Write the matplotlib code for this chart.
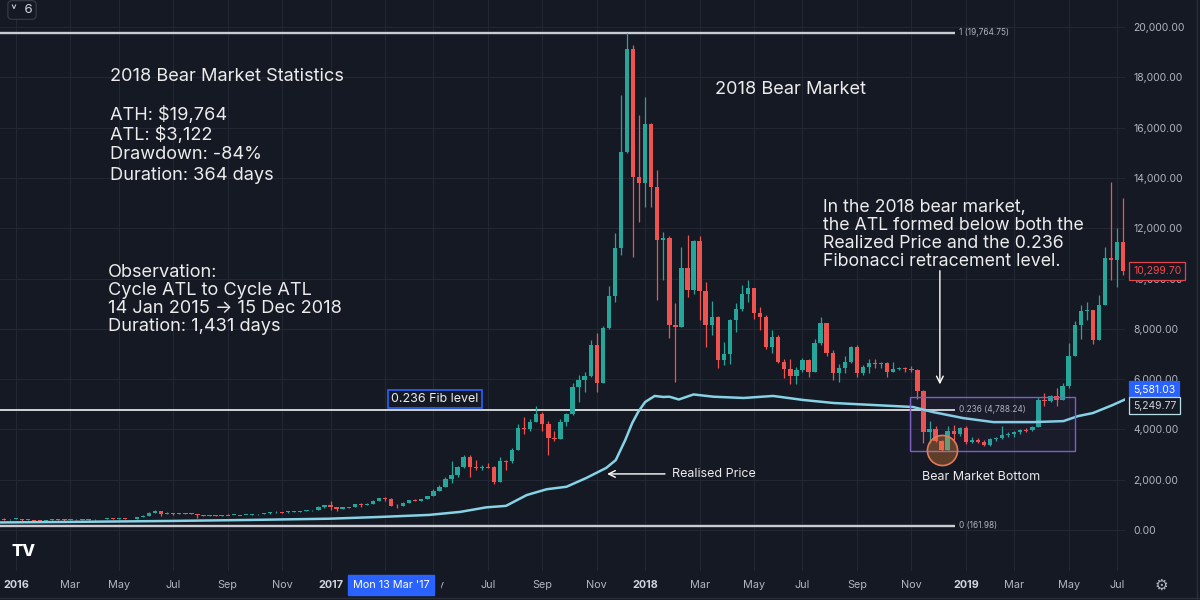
import numpy as np
import pandas as pd
import matplotlib
matplotlib.use("Agg")
import matplotlib.pyplot as plt
import matplotlib.dates as mdates
from matplotlib.patches import Rectangle
from matplotlib.lines import Line2D
from matplotlib.transforms import Bbox

# ---- weekly BTC candles, Mon 14 Dec 2015 .. Mon 8 Jul 2019 (open = previous close)
first_open = 434
close = [
    440, 422, 430,
    # 2016
    448, 387, 403, 378, 376, 406, 438, 432, 404, 413, 411, 425, 420, 421, 427, 458,
    448, 459, 456, 444, 526, 574, 685, 764, 629, 658, 650, 678, 660, 624, 591, 570,
    581, 573, 609, 607, 609, 601, 610, 617, 641, 657, 697, 711, 702, 729, 729, 766,
    778, 790, 897, 997,
    # 2017
    908, 818, 922, 919, 1023, 999, 1049, 1150, 1270, 1230, 970, 966, 1080, 1180,
    1170, 1230, 1350, 1560, 1720, 2040, 2190, 2520, 2900, 2500, 2480, 2500, 2490,
    1900, 2740, 2730, 3180, 4050, 4000, 4290, 4620, 4220, 3650, 3620, 4300, 4600,
    5690, 5960, 6120, 7350, 5850, 8040, 9290, 11210, 15030, 19120, 14020, 13810,
    # 2018
    16140, 13620, 11530, 11620, 8150, 8080, 10420, 9560, 11490, 9510, 8150, 8450,
    6760, 7000, 8350, 8770, 9370, 9610, 8640, 8480, 7290, 7690, 6700, 6390, 6130,
    6360, 6760, 6300, 7420, 8220, 7030, 6260, 6430, 6700, 7290, 6230, 6470, 6660,
    6610, 6630, 6300, 6420, 6440, 6420, 6350, 5520, 3880, 4000, 3520, 3190, 3930,
    3800, 4060,
    # 2019
    3480, 3560, 3510, 3370, 3620, 3660, 3790, 3810, 3880, 3990, 3970, 4100, 5170,
    5110, 5320, 5180, 5720, 6910, 8150, 8720, 8740, 7550, 8950, 10800, 10750, 11460,
    10299.70,
]
high = [
    465, 465, 438,
    462, 449, 415, 397, 395, 407, 443, 446, 439, 422, 418, 426, 427, 425, 431, 462,
    468, 462, 462, 456, 534, 580, 705, 780, 775, 700, 680, 680, 680, 660, 630, 600,
    585, 585, 615, 630, 612, 611, 615, 620, 645, 660, 703, 740, 725, 760, 750, 775,
    780, 795, 935, 1000,
    1153, 915, 925, 925, 1030, 1065, 1062, 1212, 1288, 1300, 1260, 1050, 1100, 1210,
    1220, 1240, 1360, 1620, 1800, 2100, 2740, 2550, 2980, 2980, 2800, 2600, 2650,
    2530, 2900, 2780, 3250, 4220, 4480, 4400, 4930, 4700, 4350, 3930, 4400, 4650,
    5850, 6180, 6300, 7550, 7830, 8100, 9700, 11800, 17300, 19764.75, 19280, 16500,
    17220, 16180, 14310, 11850, 11700, 9040, 11260, 11730, 11550, 11700, 9870, 9100,
    8500, 7480, 8400, 9030, 9740, 9940, 9610, 8850, 8550, 7950, 7770, 6800, 6800,
    6500, 6850, 6780, 7600, 8480, 8250, 7150, 6600, 6900, 7300, 7360, 6560, 6780,
    6800, 6700, 6700, 6700, 6500, 6500, 6520, 6400, 5550, 4350, 4120, 3580, 4140,
    4170, 4100,
    4120, 3700, 3640, 3570, 3660, 3700, 4140, 3900, 3930, 4010, 4050, 4150, 5300,
    5450, 5360, 5650, 5850, 7450, 8300, 8950, 9080, 8750, 9330, 11250, 13850, 12000,
    13190,
]
low = [
    415, 415, 415,
    423, 365, 360, 366, 362, 373, 402, 410, 369, 405, 406, 411, 411, 415, 420, 426,
    445, 443, 449, 436, 443, 525, 570, 680, 550, 620, 605, 645, 645, 620, 480, 565,
    565, 565, 570, 600, 600, 590, 600, 605, 615, 627, 651, 690, 695, 695, 720, 725,
    755, 770, 790, 880,
    812, 756, 820, 887, 915, 925, 993, 1048, 1150, 1150, 940, 890, 940, 1080,
    1150, 1170, 1230, 1350, 1560, 1700, 1850, 2100, 2480, 2100, 2400, 2400, 2450,
    1830, 1900, 2400, 2650, 3180, 3800, 3950, 4280, 3950, 2980, 3520, 3600, 4150,
    4570, 5100, 5500, 6100, 5480, 5850, 8000, 9060, 10930, 15000, 10850, 12250,
    12840, 12840, 9150, 9940, 7630, 5900, 8070, 9270, 9400, 8350, 7290, 7750,
    6430, 6580, 6620, 7880, 8700, 9050, 8400, 7950, 7200, 7050, 6650, 6030, 5810,
    5800, 6280, 6100, 6300, 7350, 6900, 5960, 5900, 6250, 6650, 6100, 6150, 6250,
    6450, 6450, 6100, 6280, 6380, 6300, 6300, 5200, 3450, 3450, 3480, 3122, 3180,
    3580, 3750,
    3420, 3470, 3450, 3350, 3350, 3550, 3620, 3700, 3700, 3820, 3900, 3950, 4100,
    4950, 5080, 4950, 5150, 5650, 6900, 7600, 8350, 7400, 7550, 8950, 9940, 9650,
    10140,
]

# ---- realized price (light blue line)
rp_dates = ["2015-12-14", "2016-03-01", "2016-07-01", "2016-10-01", "2017-01-01",
            "2017-03-01", "2017-04-26", "2017-06-01", "2017-07-01", "2017-07-24",
            "2017-08-17", "2017-09-09", "2017-10-02", "2017-10-25", "2017-11-17",
            "2017-11-28", "2017-12-09", "2017-12-17", "2017-12-24", "2018-01-01",
            "2018-01-12", "2018-01-22", "2018-01-29", "2018-02-09", "2018-02-26",
            "2018-03-21", "2018-04-25", "2018-05-29", "2018-07-03", "2018-08-07",
            "2018-09-22", "2018-11-07", "2018-11-30", "2019-01-04", "2019-02-08",
            "2019-03-26", "2019-04-30", "2019-05-17", "2019-06-03", "2019-06-26",
            "2019-07-14"]
rp_values = [300, 320, 360, 400, 450, 520, 600, 720, 900, 960, 1390, 1620, 1720,
             2070, 2470, 2780, 3580, 4250, 4700, 5090, 5330, 5290, 5300, 5190, 5390,
             5300, 5250, 5330, 5170, 5050, 4970, 4890, 4690, 4450, 4290, 4290, 4330,
             4530, 4650, 4970, 5250]

# ---- fibonacci levels
fib_names = ["1", "0.236", "0"]
fib_prices = [19764.75, 4788.24, 161.98]
fib_end = "2018-12-25"

last_price = 10299.70
blue_value = 5581.03
rp_last = 5249.77

BG = "#151924"
GRID = "#232734"
UP = "#26a69a"
DOWN = "#ef5350"
TXT = "#ececec"
AXT = "#b2b5be"

plt.rcParams["font.family"] = ["Inter", "DejaVu Sans"]

fig = plt.figure(figsize=(12, 6), dpi=100, facecolor=BG)
ax = fig.add_axes([0, 1 - 571 / 600, 1125 / 1200, 571 / 600])
ax.set_facecolor(BG)


def fx(x):
    return x / 1200


def fy(y):
    return 1 - y / 600


def dnum(s):
    return mdates.date2num(pd.Timestamp(s))


weeks = pd.date_range("2015-12-14", periods=len(close), freq="W-MON")
c = np.array(close, dtype=float)
h = np.array(high, dtype=float)
l = np.array(low, dtype=float)
o = np.concatenate([[first_open], c[:-1]])
xw = mdates.date2num(weeks)

up = c >= o
colors = np.where(up, UP, DOWN)
body = c - o
body = np.where(np.abs(body) < 35, np.where(up, 35, -35), body)
ax.vlines(xw, l, h, colors=colors, linewidth=0.9, zorder=3)
ax.bar(xw, body, bottom=o, width=5, color=colors, linewidth=0, zorder=4)

ax.plot(mdates.date2num(pd.to_datetime(rp_dates)), rp_values, color="#86d3e6",
        lw=1.8, zorder=5)

# view
d0 = dnum("2017-12-11")
xmin = d0 - 627 / 0.8643
xmax = d0 + (1125 - 627) / 0.8643
ax.set_xlim(xmin, xmax)
ax.set_ylim(-1630, 21074)

# fib lines
fib_w = [1.7, 1.2, 1.7]
fib_c = ["#c9ccd3", "#f2f2f2", "#c9ccd3"]
for name, p, w, col in zip(fib_names, fib_prices, fib_w, fib_c):
    ax.hlines(p, xmin - 10, dnum(fib_end), colors=col, lw=w, zorder=2)
    ax.text(dnum(fib_end) + 5, p, f"{name} ({p:,.2f})", fontsize=6, color=AXT,
            va="center", ha="left", zorder=6)

# axis ticks
yt = list(range(0, 20001, 2000))
ax.set_yticks(yt)
ax.set_yticklabels([f"{v:,.2f}" for v in yt])
ax.yaxis.tick_right()
ax.tick_params(axis="y", length=0, pad=5.8, labelsize=7.5, labelcolor=AXT)

tick_pos, tick_lab, tick_is_year = [], [], []
for d in weeks:
    if d.month in (1, 3, 5, 7, 9, 11) and d.day <= 7:
        tick_pos.append(mdates.date2num(d))
        tick_lab.append(str(d.year) if d.month == 1 else d.strftime("%b"))
        tick_is_year.append(d.month == 1)
ax.set_xticks(tick_pos)
ax.set_xticklabels(tick_lab)
ax.tick_params(axis="x", length=0, pad=6.5, labelsize=7.8, labelcolor=AXT)
for lab, yr in zip(ax.get_xticklabels(), tick_is_year):
    if yr:
        lab.set_fontweight("bold")
        lab.set_color("#d1d4dc")

ax.grid(True, color=GRID, lw=0.8)
ax.set_axisbelow(True)
for s in ax.spines.values():
    s.set_visible(False)

# the crosshair date box hides the Mar '17 label and most of May '17
cross_date = dnum("2017-03-13")
for pos, lab in zip(tick_pos, ax.get_xticklabels()):
    if abs(pos - cross_date) < 10:
        lab.set_visible(False)
    elif 0 < pos - cross_date < 70:
        lab.set_clip_box(Bbox.from_extents(441, 0, 1200, 600))
        lab.set_clip_on(True)

# right-hand price labels
ylab = ax.get_yaxis_transform()
ax.annotate(f"{last_price:,.2f}", xy=(1, last_price), xycoords=ylab,
            xytext=(5.8, 0), textcoords="offset points", ha="left", va="center",
            fontsize=7.5, color="#f04b50", annotation_clip=False,
            bbox=dict(boxstyle="square,pad=0.35", fc=BG, ec="#e0464c", lw=0.9))
ax.annotate(f"{blue_value:,.2f}", xy=(1, blue_value), xycoords=ylab,
            xytext=(5.8, 0), textcoords="offset points", ha="left", va="center",
            fontsize=7.5, color="white", annotation_clip=False,
            bbox=dict(boxstyle="square,pad=0.35", fc="#2962ff", ec="#2962ff", lw=0.9))
ax.annotate(f"{rp_last:,.2f}", xy=(1, rp_last), xycoords=ylab,
            xytext=(5.8, -5.5), textcoords="offset points", ha="left", va="center",
            fontsize=7.5, color="#d1d4dc", annotation_clip=False,
            bbox=dict(boxstyle="square,pad=0.35", fc=BG, ec="#b8dfe8", lw=0.9))

# crosshair date label
ax.annotate("Mon 13 Mar '17", xy=(cross_date, 0), xycoords=ax.get_xaxis_transform(),
            xytext=(0, -10.3), textcoords="offset points", ha="center", va="center",
            fontsize=7.8, color="white", annotation_clip=False, zorder=10,
            bbox=dict(boxstyle="square,pad=0.45", fc="#2962ff", ec="#2962ff"))

# drawings
ax.text(dnum("2017-05-03"), 5210, "0.236 Fib level", fontsize=9, color=TXT,
        ha="center", va="center", zorder=7,
        bbox=dict(boxstyle="square,pad=0.25", fc=BG, ec="#2962ff", lw=1.2))

ax.add_patch(Rectangle((dnum("2018-11-04"), 3122),
                       dnum("2019-05-13") - dnum("2018-11-04"), 5290 - 3122,
                       fc=(0.49, 0.34, 0.76, 0.05), ec="#7e5fc4", lw=1.0, zorder=6))
ax.scatter([dnum("2018-12-10")], [3180], s=470, facecolor=(0.96, 0.55, 0.2, 0.33),
           edgecolor="#e27a58", lw=1.2, zorder=7)
ax.text(dnum("2019-01-25"), 1980, "Bear Market Bottom", fontsize=9, color=TXT,
        ha="center", va="baseline", zorder=7)

ax.annotate("", xy=(dnum("2018-12-08"), 5680), xytext=(dnum("2018-12-08"), 10420),
            arrowprops=dict(arrowstyle="->", color="white", lw=1.0, mutation_scale=12),
            zorder=7)
ax.annotate("Realised Price", xy=(dnum("2017-11-18"), 2230),
            xytext=(dnum("2018-02-01"), 2230), fontsize=9, color=TXT,
            ha="left", va="center", zorder=7,
            arrowprops=dict(arrowstyle="->", color="white", lw=1.0, mutation_scale=12,
                            shrinkA=3, shrinkB=0))

# text blocks
FS = 13.1
stats_lines = ["2018 Bear Market Statistics", "ATH: $19,764", "ATL: $3,122",
               "Drawdown: -84%", "Duration: 364 days"]
stats_base = [81, 120, 140, 159, 180]
for t, b in zip(stats_lines, stats_base):
    fig.text(fx(110), fy(b), t, fontsize=FS, color=TXT, va="baseline")

fig.text(fx(715), fy(94), "2018 Bear Market", fontsize=FS, color=TXT, va="baseline")

obs_lines = ["Observation:", "Cycle ATL to Cycle ATL", "14 Jan 2015 \u2192 15 Dec 2018",
             "Duration: 1,431 days"]
obs_base = [277, 295, 313, 331]
for t, b in zip(obs_lines, obs_base):
    fig.text(fx(108), fy(b), t, fontsize=FS, color=TXT, va="baseline")

note_lines = ["In the 2018 bear market,", "the ATL formed below both the",
              "Realized Price and the 0.236", "Fibonacci retracement level."]
note_base = [212, 230, 248, 266]
for t, b in zip(note_lines, note_base):
    fig.text(fx(823), fy(b), t, fontsize=12.8, color=TXT, va="baseline")

# chrome
fig.text(fx(22), fy(10), "\u02c5  6", fontsize=9.5, color="#d1d4dc", ha="center", va="center",
         bbox=dict(boxstyle="round,pad=0.25,rounding_size=0.3", fc=BG, ec="#3a3e4a", lw=0.8))
fig.text(fx(12), fy(552), "TV", fontsize=12, fontweight="heavy", color="white", va="center")
fig.text(fx(1161), fy(585), "\u2699", fontsize=11, color=AXT, ha="center", va="center",
         family=["DejaVu Sans"])
fig.add_artist(Line2D([fx(1197), fx(1197)], [0, 1], color="#2a2e39", lw=1,
                      transform=fig.transFigure))
fig.add_artist(Line2D([0, 1], [fy(598), fy(598)], color="#2a2e39", lw=1,
                      transform=fig.transFigure))

fig.savefig("out.png", dpi=100, facecolor=BG)
